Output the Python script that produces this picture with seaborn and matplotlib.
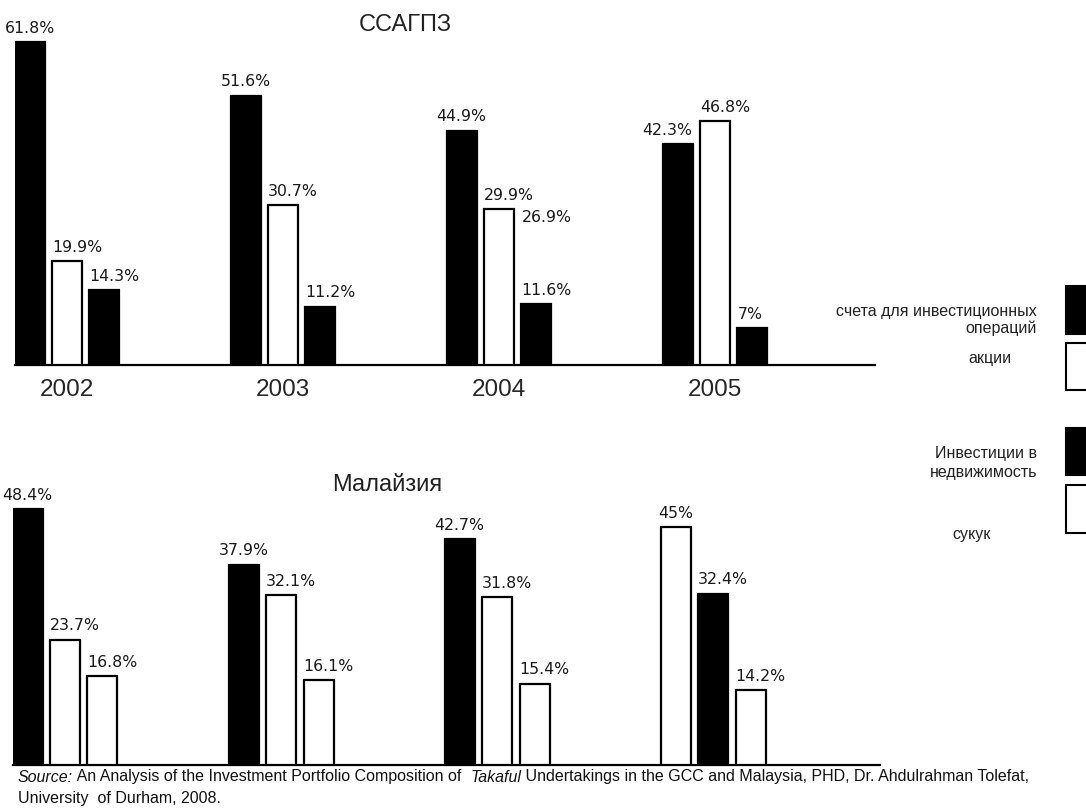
import matplotlib
matplotlib.use("Agg")
import matplotlib.pyplot as plt
import seaborn as sns
import pandas as pd
from matplotlib.patches import Rectangle

# ---------------- data ----------------
years = ["2002", "2003", "2004", "2005"]

gcc_bar1 = [61.8, 51.6, 44.9, 42.3]
gcc_bar2 = [19.9, 30.7, 29.9, 46.8]
gcc_bar3 = [14.3, 11.2, 11.6, 7.0]
gcc_colors = [["black", "white", "black"],
              ["black", "white", "black"],
              ["black", "white", "black"],
              ["black", "white", "black"]]
gcc_extra_year = "2004"      # label printed without a visible bar
gcc_extra_value = 26.9

mal_bar1 = [48.4, 37.9, 42.7, 45.0]
mal_bar2 = [23.7, 32.1, 31.8, 32.4]
mal_bar3 = [16.8, 16.1, 15.4, 14.2]
mal_colors = [["black", "white", "white"],
              ["black", "white", "white"],
              ["black", "white", "white"],
              ["white", "black", "white"]]

title_gcc = "ССАГПЗ"
title_mal = "Малайзия"
legend_labels = ["счета для инвестиционных\nопераций", "акции",
                 "Инвестиции в\nнедвижимость", "сукук"]
legend_colors = ["black", "white", "black", "white"]

# ---------------- figure ----------------
W, H = 1086, 809
sns.set_style("white")
plt.rcParams["font.family"] = ["Liberation Sans", "DejaVu Sans"]

fig = plt.figure(figsize=(W / 100, H / 100), dpi=100)

LABEL_KW = dict(fontsize=11.3, family="DejaVu Sans", color="#1a1a1a",
                textcoords="offset points", va="bottom")


def fx(px):
    return px / W


def fy(py):
    return 1 - py / H


def make_df(b1, b2, b3):
    rows = []
    for slot, vals in enumerate([b1, b2, b3]):
        for y, v in zip(years, vals):
            rows.append({"year": y, "slot": slot, "value": v})
    return pd.DataFrame(rows)


def draw_panel(ax, df, colors, ylim, xlim, show_years):
    sns.barplot(data=df, x="year", y="value", hue="slot", order=years,
                width=0.52, gap=0.2, palette=["white"] * 3,
                edgecolor="black", linewidth=1.6, legend=False,
                errorbar=None, ax=ax, zorder=3)
    conts = ax.containers
    for i, cont in enumerate(conts):
        for j, bar in enumerate(cont):
            bar.set_facecolor(colors[j][i])
            v = cont.datavalues[j]
            if i == 0:
                nxt = conts[1].datavalues[j]
                if nxt > v:
                    xy = (bar.get_x() + bar.get_width(), bar.get_height())
                    ha = "right"
                else:
                    xy = (bar.get_x() + bar.get_width() / 2, bar.get_height())
                    ha = "center"
            else:
                xy = (bar.get_x(), bar.get_height())
                ha = "left"
            ax.annotate(f"{v:g}%", xy=xy, xytext=(0, 4.5), ha=ha, **LABEL_KW)
    ax.set_ylim(*ylim)
    ax.set_xlim(*xlim)
    ax.set_xlabel("")
    ax.set_ylabel("")
    ax.set_yticks([])
    for s in ["top", "right", "left"]:
        ax.spines[s].set_visible(False)
    ax.spines["bottom"].set_linewidth(1.6)
    ax.spines["bottom"].set_color("black")
    ax.tick_params(axis="x", length=0, pad=10, labelsize=17.5)
    if not show_years:
        ax.set_xticklabels([])
    ax.set_facecolor("none")


# top panel (GCC)
ax1 = fig.add_axes([fx(15), fy(365), fx(860), 334 / H])
draw_panel(ax1, make_df(gcc_bar1, gcc_bar2, gcc_bar3), gcc_colors,
           (0, 64), (-0.2407, 3.7407), True)
# floating label for the missing bar (sits above the third bar's slot)
ix = years.index(gcc_extra_year)
third_bar = ax1.containers[2][ix]
ax1.annotate(f"{gcc_extra_value:g}%", xy=(third_bar.get_x(), gcc_extra_value),
             xytext=(0, 0), ha="left", **LABEL_KW)

# bottom panel (Malaysia)
ax2 = fig.add_axes([fx(13), fy(765), fx(867), 275 / H])
draw_panel(ax2, make_df(mal_bar1, mal_bar2, mal_bar3), mal_colors,
           (0, 52), (-0.2407, 3.7720), False)

# titles
fig.text(fx(405), fy(25), title_gcc, ha="center", va="center", fontsize=17,
         color="#222222")
fig.text(fx(387), fy(485), title_mal, ha="center", va="center", fontsize=17,
         color="#222222")

# legend (labels at left, keys cut by the right edge)
key_boxes = [(286, 334), (343, 390), (428, 475), (485, 533)]
for (top, bot), c in zip(key_boxes, legend_colors):
    fig.patches.append(Rectangle((fx(1066), fy(bot)), fx(60), (bot - top) / H,
                                 transform=fig.transFigure, facecolor=c,
                                 edgecolor="black", linewidth=1.5,
                                 clip_on=False))
leg_text_kw = dict(fontsize=11.5, color="#222222", va="center")
fig.text(fx(1037), fy(320), legend_labels[0], ha="right", multialignment="right",
         linespacing=1.15, **leg_text_kw)
fig.text(fx(990), fy(358), legend_labels[1], ha="center", **leg_text_kw)
fig.text(fx(1037), fy(463), legend_labels[2], ha="right", multialignment="right",
         linespacing=1.3, **leg_text_kw)
fig.text(fx(972), fy(535), legend_labels[3], ha="center", **leg_text_kw)

# source note with italic pieces
renderer = fig.canvas.get_renderer()
parts = [("Source:", "italic"),
         (" An Analysis of the Investment Portfolio Composition of  ", "normal"),
         ("Takaful", "italic"),
         (" Undertakings in the GCC and Malaysia, PHD, Dr. Ahdulrahman Tolefat,",
          "normal")]
x = 18
for s, st in parts:
    t = fig.text(fx(x), fy(777), s, ha="left", va="center", fontsize=11.5,
                 style=st, color="#111111")
    x += t.get_window_extent(renderer).width
fig.text(fx(18), fy(798), "University  of Durham, 2008.", ha="left",
         va="center", fontsize=11.5, color="#111111")

fig.savefig("out.png", dpi=100, facecolor="white")
